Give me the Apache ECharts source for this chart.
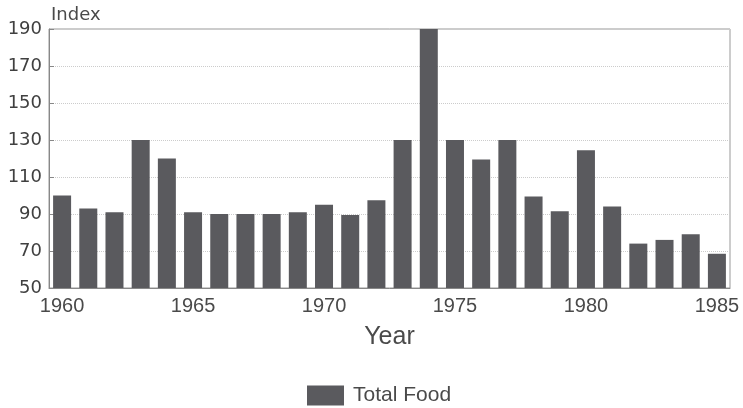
<!DOCTYPE html>
<html>
<head>
<meta charset="utf-8">
<script src="https://cdn.jsdelivr.net/npm/echarts@6/dist/echarts.min.js"></script>
<style>html,body{margin:0;padding:0;background:#fff;}#c{width:743px;height:408px;}</style>
</head>
<body>
<div id="c"></div>
<script>
var years = ['1960','1961','1962','1963','1964','1965','1966','1967','1968','1969','1970','1971','1972','1973','1974','1975','1976','1977','1978','1979','1980','1981','1982','1983','1984','1985'];
var totalFood = [100,93,91,130,120,91,90,90,90,91,95,89.5,97.5,130,190,130,119.5,130,99.5,91.5,124.5,94,74,76,79,68.5];
var seriesName = 'Total Food';
var yTitle = 'Index';
var xTitle = 'Year';

var chart = echarts.init(document.getElementById('c'), null, {renderer:'canvas'});
chart.setOption({
  backgroundColor: '#ffffff',
  animation: false,
  title: {
    text: yTitle, left: 46, top: 1,
    textStyle: {fontFamily: 'DejaVu Sans', fontSize: 18, fontWeight: 'normal', color: '#4a4a4a'}
  },
  legend: {
    data: [seriesName], left: 302, top: 380,
    itemWidth: 37, itemHeight: 20, icon: 'rect',
    textStyle: {fontFamily: 'Liberation Sans', fontSize: 21, color: '#4a4a4a', padding: [0,0,0,4]}
  },
  grid: {left: 49, right: 13, top: 29, bottom: 120, show: true, borderColor: '#999', borderWidth: 1},
  xAxis: {
    type: 'category', data: years,
    name: xTitle, nameLocation: 'middle', nameGap: 37,
    nameTextStyle: {fontFamily: 'Liberation Sans', fontSize: 25, color: '#4a4a4a'},
    axisLine: {lineStyle: {color: '#888'}},
    axisTick: {interval: 4, alignWithLabel: true, length: 8, lineStyle: {color: '#888'}},
    axisLabel: {interval: 4, margin: 8, fontFamily: 'Liberation Sans', fontSize: 20, color: '#4a4a4a'}
  },
  yAxis: {
    type: 'value', min: 50, max: 190, interval: 20,
    axisLine: {show: true, lineStyle: {color: '#888'}},
    axisTick: {show: true, inside: true, length: 5, lineStyle: {color: '#888'}},
    axisLabel: {margin: 7, fontFamily: 'DejaVu Sans', fontSize: 18, color: '#404040'},
    splitLine: {show: true, lineStyle: {color: '#ccc', type: 'dotted'}}
  },
  series: [{
    name: seriesName, type: 'bar', data: totalFood, barWidth: 18,
    itemStyle: {color: '#5a5a5e'}
  }]
});
</script>
</body>
</html>
